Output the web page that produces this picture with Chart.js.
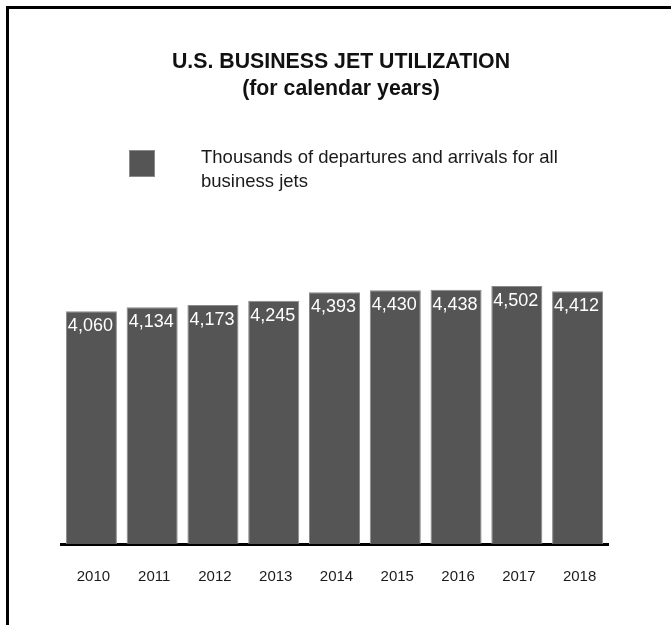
<!DOCTYPE html>
<html lang="en">
<head>
    <meta charset="UTF-8">
    <title>U.S. Business Jet Utilization</title>
    <script src="https://cdn.jsdelivr.net/npm/chart.js"></script>
    <style>
        body {
            margin: 0;
            background: #fff;
            overflow: hidden;
        }
        .frame {
            position: absolute;
            left: 6px;
            top: 6px;
            width: 720px;
            height: 700px;
            border-top: 3px solid #000;
            border-left: 3px solid #000;
        }
        #jetChart {
            position: absolute;
            left: 0;
            top: 0;
        }
    </style>
</head>
<body>
    <div class="frame"></div>
    <canvas id="jetChart" width="671" height="625"></canvas>

    <script>
        const years = ['2010', '2011', '2012', '2013', '2014', '2015', '2016', '2017', '2018'];
        const operations = [4060, 4134, 4173, 4245, 4393, 4430, 4438, 4502, 4412];
        const titleLines = ['U.S. BUSINESS JET UTILIZATION', '(for calendar years)'];
        const seriesLabel = 'Thousands of departures and arrivals for all business jets';

        const FONT = "'Liberation Sans', Arial, Helvetica, sans-serif";

        // value printed inside the top of each bar
        const barValues = {
            id: 'barValues',
            afterDatasetsDraw(chart) {
                const ctx = chart.ctx;
                const meta = chart.getDatasetMeta(0);
                ctx.save();
                ctx.fillStyle = '#ffffff';
                ctx.font = '18px ' + FONT;
                ctx.textAlign = 'center';
                ctx.textBaseline = 'top';
                meta.data.forEach((bar, i) => {
                    const v = chart.data.datasets[0].data[i];
                    ctx.fillText(v.toLocaleString('en-US'), bar.x - 1, bar.y + 6);
                });
                ctx.restore();
            }
        };

        // nudge the title a little right of the plot centre
        const titleShift = {
            id: 'titleShift',
            afterLayout(chart) {
                chart.titleBlock.left += 13;
            }
        };

        // legend: one swatch with the wrapped series label beside it
        const sideLegend = {
            id: 'sideLegend',
            afterDraw(chart) {
                const ctx = chart.ctx;
                const ds = chart.data.datasets[0];
                const top = chart.titleBlock.top + 104;
                ctx.save();
                ctx.fillStyle = ds.backgroundColor;
                ctx.fillRect(129, top + 46, 26, 27);
                ctx.strokeStyle = '#8a8a8a';
                ctx.lineWidth = 1;
                ctx.strokeRect(129.5, top + 46.5, 25, 26);

                ctx.fillStyle = '#1a1a1a';
                ctx.font = '18.5px ' + FONT;
                ctx.textAlign = 'left';
                ctx.textBaseline = 'middle';
                const words = ds.label.split(' ');
                const lines = [];
                let line = '';
                words.forEach(w => {
                    const test = line ? line + ' ' + w : w;
                    if (ctx.measureText(test).width > 400 && line) {
                        lines.push(line);
                        line = w;
                    } else {
                        line = test;
                    }
                });
                lines.push(line);
                lines.forEach((l, i) => ctx.fillText(l, 201, top + 54 + i * 24));
                ctx.restore();
            }
        };

        const ctx = document.getElementById('jetChart').getContext('2d');
        const jetChart = new Chart(ctx, {
            type: 'bar',
            data: {
                labels: years,
                datasets: [{
                    label: seriesLabel,
                    data: operations,
                    backgroundColor: '#555555',
                    borderColor: '#8a8a8a',
                    borderWidth: 1,
                    categoryPercentage: 1,
                    barPercentage: 0.84
                }]
            },
            options: {
                responsive: false,
                animation: false,
                layout: {
                    padding: { left: 61, right: 63, top: 0, bottom: 15 }
                },
                plugins: {
                    legend: { display: false },
                    tooltip: { enabled: false },
                    title: {
                        display: true,
                        text: titleLines,
                        color: '#111',
                        font: { family: FONT, size: 21.3, weight: 'bold', lineHeight: 1.3 },
                        padding: { top: 48, bottom: 157 }
                    }
                },
                scales: {
                    x: {
                        grid: { display: false, drawTicks: false },
                        border: { display: true, color: '#000', width: 3 },
                        ticks: {
                            color: '#1a1a1a',
                            padding: 24,
                            labelOffset: 2,
                            font: { family: FONT, size: 15, lineHeight: 1.2 }
                        }
                    },
                    y: {
                        display: false,
                        min: 0,
                        max: 4950
                    }
                }
            },
            plugins: [titleShift, barValues, sideLegend]
        });
    </script>
</body>
</html>
